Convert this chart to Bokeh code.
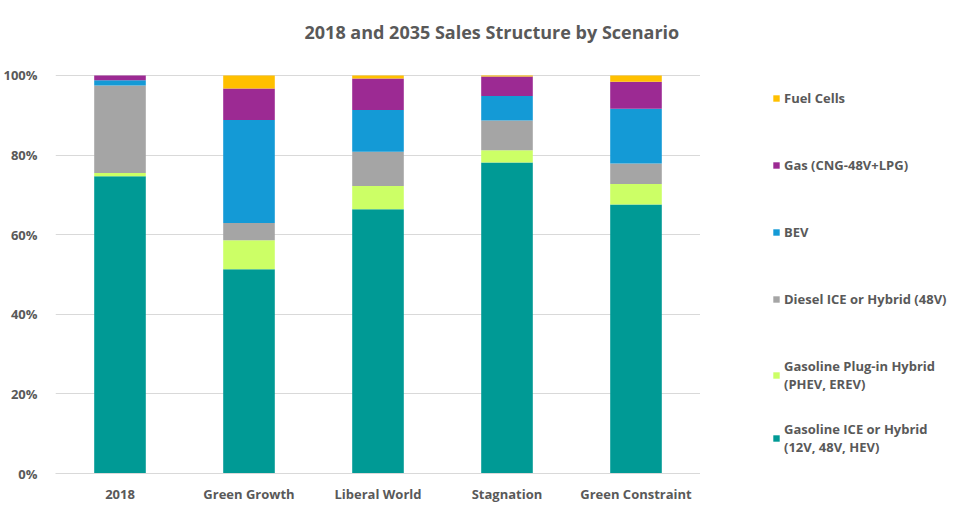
from bokeh.plotting import figure
from bokeh.layouts import row
from bokeh.models import Legend, LegendItem, PrintfTickFormatter, Title, FixedTicker
from bokeh.embed import file_html
from bokeh.resources import INLINE

categories = ["2018", "Green Growth", "Liberal World", "Stagnation", "Green Constraint"]
gasoline_ice = [74.7, 51.3, 66.4, 78.1, 67.6]
gasoline_phev = [0.8, 7.3, 5.8, 3.1, 5.1]
diesel = [22.0, 4.3, 8.6, 7.5, 5.2]
bev = [1.3, 25.9, 10.5, 6.1, 13.7]
gas_cng = [1.2, 7.9, 7.9, 4.9, 6.8]
fuel_cells = [0.0, 3.3, 0.8, 0.3, 1.6]

series_keys = ["ice", "phev", "diesel", "bev", "gas", "fc"]
series_labels = [
    "Gasoline ICE or Hybrid\n(12V, 48V, HEV)",
    "Gasoline Plug-in Hybrid\n(PHEV, EREV)",
    "Diesel ICE or Hybrid (48V)",
    "BEV",
    "Gas (CNG-48V+LPG)",
    "Fuel Cells",
]
colors = ["#009A95", "#CCFF66", "#A5A5A5", "#149AD6", "#9C2A93", "#FFC000"]
y_ticks = [0, 20, 40, 60, 80, 100]

data = dict(cat=categories, ice=gasoline_ice, phev=gasoline_phev, diesel=diesel,
            bev=bev, gas=gas_cng, fc=fuel_cells)

FONT = "Open Sans"
TXT = "#595959"

p = figure(x_range=categories, y_range=(0, 104), output_backend="svg",
           toolbar_location=None, frame_width=645, frame_height=414,
           min_border_left=48, min_border_right=0, min_border_top=59,
           min_border_bottom=28, outline_line_color=None)

renderers = p.vbar_stack(series_keys, x="cat", width=0.4, color=colors,
                         line_color=None, source=data)

t = Title(text="2018 and 2035 Sales Structure by Scenario", align="left",
          offset=249, standoff=32, text_font=FONT, text_font_size="18px",
          text_font_style="bold", text_color=TXT)
p.add_layout(t, "above")

p.x_range.range_padding = 0
p.xgrid.grid_line_color = None
p.ygrid.grid_line_color = "#D9D9D9"
p.yaxis.ticker = FixedTicker(ticks=y_ticks)
p.yaxis.formatter = PrintfTickFormatter(format="%d%%")
for ax in (p.xaxis[0], p.yaxis[0]):
    ax.major_tick_line_color = None
    ax.minor_tick_line_color = None
    ax.major_label_text_font = FONT
    ax.major_label_text_font_size = "13px"
    ax.major_label_text_font_style = "bold"
    ax.major_label_text_color = TXT
p.yaxis.axis_line_color = None
p.xaxis.axis_line_color = "#D9D9D9"
p.yaxis.major_label_standoff = 12
p.xaxis.major_label_standoff = 5

# legend panel (separate blank figure to the right)
lg = figure(output_backend="svg", toolbar_location=None, frame_width=265,
            frame_height=501, min_border=0, x_range=(0, 1), y_range=(0, 1),
            outline_line_color=None)
lg.axis.visible = False
lg.grid.visible = False
key_renderers = [lg.vbar(x=[5], top=[5], bottom=[4], width=0.1, color=c, line_color=None)
                 for c in colors]

legend_style = dict(glyph_width=8, glyph_height=8, label_standoff=4, padding=0,
                    margin=0, border_line_color=None, background_fill_alpha=0,
                    label_height=17, label_text_line_height=0.75,
                    label_text_font=FONT, label_text_font_size="13px",
                    label_text_font_style="bold", label_text_color=TXT)

items_a = [LegendItem(label=series_labels[i], renderers=[key_renderers[i]]) for i in range(5, 0, -1)]
legend_a = Legend(items=items_a, location=(72, 108), spacing=49, **legend_style)
lg.add_layout(legend_a, "center")

items_b = [LegendItem(label=series_labels[0], renderers=[key_renderers[0]])]
legend_b = Legend(items=items_b, location=(72, 45), spacing=0, **legend_style)
lg.add_layout(legend_b, "center")

layout = row(p, lg, spacing=0)
open("out.html", "w").write(file_html(layout, INLINE))
